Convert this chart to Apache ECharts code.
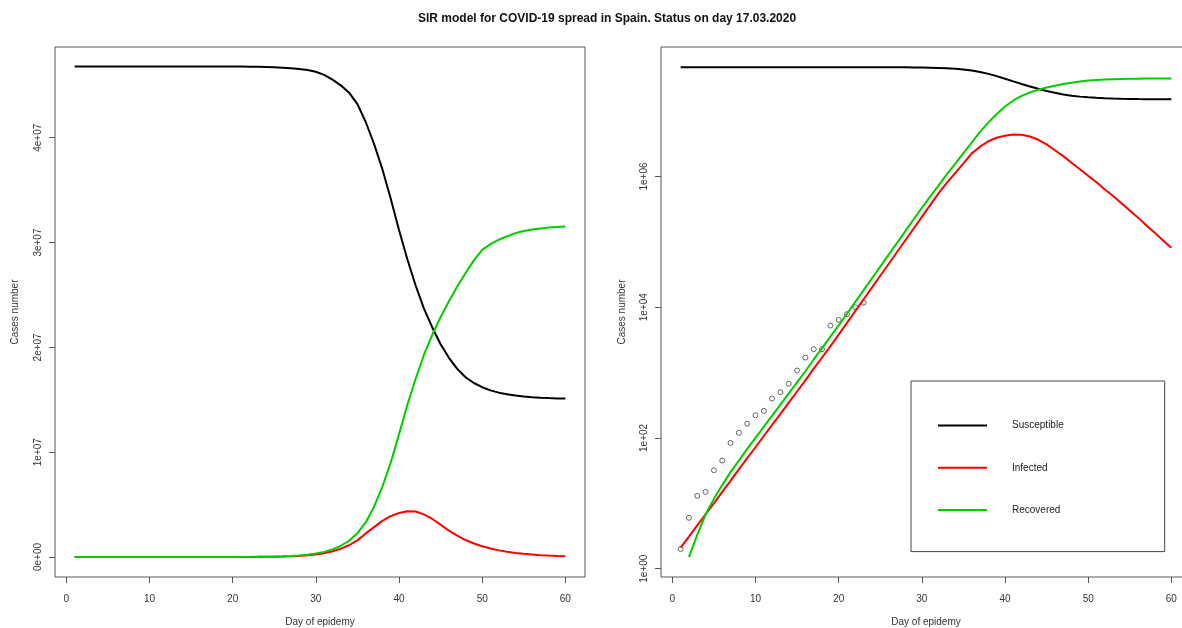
<!DOCTYPE html>
<html>
<head>
<meta charset="utf-8">
<title>SIR model for COVID-19 spread in Spain</title>
<script src="https://cdn.jsdelivr.net/npm/echarts@6.0.0/dist/echarts.min.js"></script>
<style>
html, body { margin: 0; padding: 0; background: #fff; }
#chart { width: 1182px; height: 628px; }
</style>
</head>
<body>
<div id="chart"></div>
<script>
// day of epidemy (x for the model curves)
var days = [1, 2, 3, 4, 5, 6, 7, 8, 9, 10, 11, 12, 13, 14, 15, 16, 17, 18, 19, 20,
            21, 22, 23, 24, 25, 26, 27, 28, 29, 30, 31, 32, 33, 34, 35, 36, 37, 38, 39, 40,
            41, 42, 43, 44, 45, 46, 47, 48, 49, 50, 51, 52, 53, 54, 55, 56, 57, 58, 59, 60];

// SIR model
var susceptible = [46800000, 46800000, 46800000, 46800000, 46800000, 46800000, 46800000, 46800000, 46800000, 46800000,
                   46800000, 46800000, 46800000, 46800000, 46800000, 46800000, 46800000, 46800000, 46800000, 46800000,
                   46790000, 46780000, 46770000, 46750000, 46720000, 46680000, 46630000, 46560000, 46460000, 46300000,
                   46000000, 45540000, 45000000, 44300000, 43200000, 41500000, 39400000, 37000000, 34200000, 31200000,
                   28400000, 25900000, 23700000, 21900000, 20300000, 19000000, 17950000, 17150000, 16600000, 16200000,
                   15900000, 15680000, 15520000, 15410000, 15320000, 15250000, 15200000, 15160000, 15130000, 15110000];

var infected = [2.1, 3.1, 4.6, 6.8, 10, 15, 22, 33, 49, 72,
                107, 158, 234, 347, 513, 759, 1150, 1700, 2510, 3800,
                5750, 8710, 13200, 19950, 30200, 45700, 69200, 104700, 158500, 239900,
                363100, 549500, 794300, 1122000, 1585000, 2250000, 2850000, 3450000, 3900000, 4200000,
                4370000, 4340000, 4070000, 3630000, 3090000, 2510000, 2040000, 1620000, 1290000, 1020000,
                813000, 631000, 501000, 389000, 302000, 234000, 178000, 138000, 105000, 81000];

var recovered = [0, 1.5, 3.3, 6.8, 11.7, 19, 30, 45, 68, 100,
                 148, 219, 324, 479, 708, 1047, 1585, 2344, 3548, 5248,
                 7943, 12020, 18200, 27540, 41690, 63100, 95500, 144500, 218800, 331100,
                 489800, 724400, 1072000, 1549000, 2270000, 3300000, 4800000, 6700000, 9000000, 11700000,
                 14500000, 17000000, 19300000, 21200000, 22900000, 24400000, 25800000, 27100000, 28300000, 29300000,
                 29850000, 30270000, 30600000, 30900000, 31100000, 31240000, 31350000, 31430000, 31480000, 31520000];

// observed cumulative cases, days 1..23
var obsDays = [1, 2, 3, 4, 5, 6, 7, 8, 9, 10, 11, 12, 13, 14, 15, 16, 17, 18, 19, 20, 21, 22, 23];
var observed = [2, 6, 13, 15, 32, 45, 84, 120, 165, 222, 259, 400, 500, 673, 1073, 1695, 2277, 2277, 5232, 6391, 7798, 9942, 11748];

// tick labels
var xTicks = [0, 10, 20, 30, 40, 50, 60];
var yTicksLin = [0, 1e7, 2e7, 3e7, 4e7];
var yTicksLog = [1, 100, 1e4, 1e6];

var font = "'Liberation Sans', Arial, sans-serif";
var ink = '#333';
var frame = '#555';

// R style scientific labels: 0e+00, 1e+07 ...
function sci(v) {
    if (v === 0) return '0e+00';
    var e = Math.floor(Math.log10(Math.abs(v)) + 1e-9);
    var m = Math.round(v / Math.pow(10, e));
    return m + 'e' + (e < 0 ? '-' : '+') + (Math.abs(e) < 10 ? '0' : '') + Math.abs(e);
}

function pairs(xs, ys, dropZero) {
    return xs.map(function (x, i) {
        var y = ys[i];
        if (dropZero && !(y > 0)) return [x, '-'];
        return [x, y];
    });
}

function xAxisFor(i) {
    return {
        gridIndex: i,
        type: 'value',
        min: -1.36,
        max: 62.36,
        name: 'Day of epidemy',
        nameLocation: 'middle',
        nameGap: 40,
        nameTextStyle: { fontFamily: font, fontSize: 10, color: ink },
        axisLine: { show: false, onZero: false },
        axisTick: { show: true, length: 6, lineStyle: { color: frame }, customValues: xTicks },
        axisLabel: { customValues: xTicks, margin: 17, fontFamily: font, fontSize: 10, color: ink },
        splitLine: { show: false }
    };
}

function yAxisFor(i, type, min, max, ticks, gap) {
    return {
        gridIndex: i,
        type: type,
        logBase: 10,
        min: min,
        max: max,
        name: 'Cases number',
        nameLocation: 'middle',
        nameGap: gap,
        nameTextStyle: { fontFamily: font, fontSize: 10, color: ink },
        axisLine: { show: false, onZero: false },
        axisTick: { show: true, length: 6, lineStyle: { color: frame }, customValues: ticks },
        axisLabel: { customValues: ticks, rotate: 90, margin: 12, formatter: sci, fontFamily: font, fontSize: 10, color: ink },
        splitLine: { show: false }
    };
}

function curve(name, data, color, ix) {
    return {
        name: name,
        type: 'line',
        xAxisIndex: ix,
        yAxisIndex: ix,
        data: data,
        symbol: 'none',
        lineStyle: { color: color, width: 2 },
        itemStyle: { color: color },
        z: 3
    };
}

var blk = '#000000', red = '#ff0000', grn = '#00cd00';

var option = {
    animation: false,
    backgroundColor: '#fff',
    title: {
        text: 'SIR model for COVID-19 spread in Spain. Status on day 17.03.2020',
        left: 418,
        top: 13,
        padding: 0,
        textStyle: { fontFamily: font, fontSize: 12, fontWeight: 'bold', color: '#111' }
    },
    legend: {
        data: ['Susceptible', 'Infected', 'Recovered'],
        orient: 'vertical',
        left: 911,
        top: 381,
        padding: [39, 101, 36, 26],
        itemGap: 31,
        itemWidth: 49,
        itemHeight: 14,
        selectedMode: false,
        itemStyle: { opacity: 0 },
        borderColor: '#444',
        borderWidth: 1,
        borderRadius: 0,
        textStyle: { fontFamily: font, fontSize: 10, color: '#222', padding: [0, 0, 0, 20] }
    },
    grid: [
        { left: 55, top: 47, width: 530, height: 530, show: true, borderColor: frame, borderWidth: 1, backgroundColor: 'transparent', containLabel: false, outerBoundsMode: 'none' },
        { left: 661, top: 47, width: 530, height: 530, show: true, borderColor: frame, borderWidth: 1, backgroundColor: 'transparent', containLabel: false, outerBoundsMode: 'none' }
    ],
    xAxis: [xAxisFor(0), xAxisFor(1)],
    yAxis: [
        yAxisFor(0, 'value', -1908000, 48656000, yTicksLin, 35),
        yAxisFor(1, 'log', 0.7464, 9.53e7, yTicksLog, 34)
    ],
    series: [
        curve('Susceptible', pairs(days, susceptible), blk, 0),
        curve('Infected', pairs(days, infected), red, 0),
        curve('Recovered', pairs(days, recovered), grn, 0),
        {
            name: 'Observed',
            type: 'scatter',
            xAxisIndex: 1,
            yAxisIndex: 1,
            data: pairs(obsDays, observed),
            symbol: 'circle',
            symbolSize: 5,
            itemStyle: { color: 'rgba(0,0,0,0)', borderColor: '#444', borderWidth: 1 },
            z: 2
        },
        curve('Susceptible', pairs(days, susceptible, true), blk, 1),
        curve('Infected', pairs(days, infected, true), red, 1),
        curve('Recovered', pairs(days, recovered, true), grn, 1)
    ]
};

var myChart = echarts.init(document.getElementById('chart'), null, { renderer: 'canvas' });
myChart.setOption(option);
</script>
</body>
</html>
